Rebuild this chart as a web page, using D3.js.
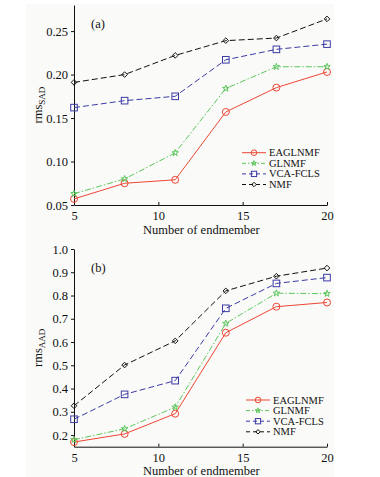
<!DOCTYPE html>
<html>
<head>
<meta charset="utf-8">
<script src="https://cdn.jsdelivr.net/npm/d3@7"></script>
<style>
  body { margin: 0; background: #fff; }
  svg { display: block; }
  text { font-family: "Liberation Serif", "Times New Roman", serif; fill: #111; }
  .axis path, .axis line { stroke: #111; stroke-width: 1; }
</style>
</head>
<body>
<svg width="380" height="477"></svg>
<script>
var endmembers = [5, 8, 11, 14, 17, 20];
var methods = ["EAGLNMF", "GLNMF", "VCA-FCLS", "NMF"];

// panel (a): rmsSAD
var sadEAGLNMF = [0.057, 0.075, 0.079, 0.157, 0.185, 0.203];
var sadGLNMF   = [0.063, 0.080, 0.110, 0.184, 0.209, 0.209];
var sadVCA     = [0.162, 0.170, 0.175, 0.217, 0.229, 0.235];
var sadNMF     = [0.191, 0.200, 0.222, 0.239, 0.242, 0.264];

// panel (b): rmsAAD
var aadEAGLNMF = [0.170, 0.205, 0.292, 0.640, 0.752, 0.770];
var aadGLNMF   = [0.180, 0.227, 0.320, 0.680, 0.810, 0.808];
var aadVCA     = [0.268, 0.375, 0.434, 0.745, 0.852, 0.877];
var aadNMF     = [0.326, 0.501, 0.605, 0.820, 0.883, 0.918];

var sadTicks = [0.05, 0.10, 0.15, 0.20, 0.25];
var aadTicks = [0.2, 0.3, 0.4, 0.5, 0.6, 0.7, 0.8, 0.9, 1.0];
var xTicks = [5, 10, 15, 20];

var styles = {
  "EAGLNMF":  {color: "#ee4636", dash: null,        marker: "circle"},
  "GLNMF":    {color: "#5cc65c", dash: "6,2,1.5,2", marker: "star"},
  "VCA-FCLS": {color: "#3b3ba6", dash: "6,3",       marker: "square"},
  "NMF":      {color: "#111111", dash: "6,3",       marker: "diamond"}
};

var svg = d3.select("svg");
svg.append("rect").attr("x", 26).attr("y", 4).attr("width", 308).attr("height", 473).attr("fill", "#fafaf8");

var x = d3.scaleLinear().domain([5, 20]).range([74, 327]);

function marker(g, type, color, k) {
  k = k || 1;
  if (type === "circle") {
    g.append("circle").attr("r", 3.5 * k).attr("fill", "none").attr("stroke", color);
  } else if (type === "square") {
    g.append("rect").attr("x", -3.3 * k).attr("y", -3.3 * k).attr("width", 6.6 * k).attr("height", 6.6 * k)
      .attr("fill", "none").attr("stroke", color);
  } else if (type === "diamond") {
    g.append("path").attr("d", d3.symbol(d3.symbolDiamond2, 20 * k * k)()).attr("fill", "none").attr("stroke", color);
  } else {
    g.append("path").attr("d", d3.symbol(d3.symbolStar, 13 * k * k)()).attr("fill", "none").attr("stroke", color);
  }
}

function panel(opts) {
  var y = d3.scaleLinear().domain(opts.domain).range(opts.range);
  var g = svg.append("g");

  g.append("g").attr("class", "axis")
      .attr("transform", "translate(0," + opts.range[0] + ")")
      .call(d3.axisBottom(x).tickValues(xTicks).tickSize(-3).tickSizeOuter(0).tickPadding(6))
      .call(function(a) { a.selectAll("text").style("font-size", "12.5px"); });

  g.append("g").attr("class", "axis")
      .attr("transform", "translate(74,0)")
      .call(d3.axisLeft(y).tickValues(opts.ticks).tickFormat(d3.format(opts.fmt)).tickSize(3).tickSizeOuter(0).tickPadding(3))
      .call(function(a) { a.selectAll("text").style("font-size", "12.5px"); });

  g.append("text").attr("x", 143).attr("y", opts.range[0] + 28.5).style("font-size", "12.5px")
      .text("Number of endmember");

  var yl = g.append("text")
      .attr("transform", "translate(42," + ((opts.range[0] + opts.range[1]) / 2) + ") rotate(-90)")
      .attr("text-anchor", "middle").style("font-size", "12.5px");
  yl.append("tspan").text("rms");
  yl.append("tspan").attr("dy", 3).style("font-size", "9px").text(opts.sub);

  g.append("text").attr("x", 91).attr("y", opts.range[1] + 23).style("font-size", "12.5px").text(opts.tag);

  var line = d3.line().x(function(d, i) { return x(endmembers[i]); }).y(function(d) { return y(d); });

  methods.forEach(function(m, k) {
    var s = styles[m];
    var vals = opts.series[k];
    g.append("path").attr("d", line(vals)).attr("fill", "none")
        .attr("stroke", s.color).attr("stroke-width", 1)
        .attr("stroke-dasharray", s.dash);
    vals.forEach(function(v, i) {
      marker(g.append("g").attr("transform", "translate(" + x(endmembers[i]) + "," + y(v) + ")"), s.marker, s.color);
    });
  });

  var lg = g.append("g").attr("transform", "translate(" + opts.legend[0] + "," + opts.legend[1] + ")");
  methods.forEach(function(m, k) {
    var s = styles[m];
    var row = lg.append("g").attr("transform", "translate(0," + (k * 10.6) + ")");
    row.append("line").attr("x1", 0).attr("x2", 24).attr("stroke", s.color)
        .attr("stroke-dasharray", s.dash ? (m === "GLNMF" ? "4,2,1.5,2" : "4,3") : null);
    marker(row.append("g").attr("transform", "translate(12,0)"), s.marker, s.color, 0.8);
    row.append("text").attr("x", 27).attr("y", 3.5).style("font-size", "10.5px").text(m);
  });
}

panel({
  domain: [0.05, 0.28], range: [205, 5], ticks: sadTicks, fmt: ".2f",
  sub: "SAD", tag: "(a)",
  series: [sadEAGLNMF, sadGLNMF, sadVCA, sadNMF],
  legend: [242, 152.7]
});

panel({
  domain: [0.15, 1.0], range: [446.7, 249], ticks: aadTicks, fmt: ".1f",
  sub: "AAD", tag: "(b)",
  series: [aadEAGLNMF, aadGLNMF, aadVCA, aadNMF],
  legend: [246, 400]
});
</script>
</body>
</html>
